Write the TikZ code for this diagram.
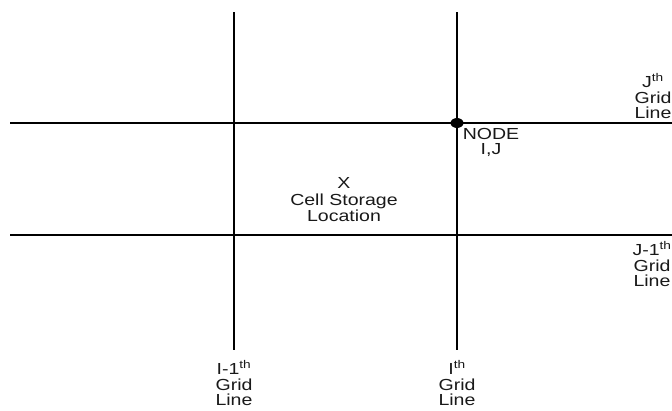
\documentclass[tikz,border=0pt]{standalone}
\usepackage{fontspec}
\setmainfont{Liberation Sans}[FakeStretch=1.22]
\usetikzlibrary{positioning}

\begin{document}
\begin{tikzpicture}[x=1pt, y=-1pt,
    gridline/.style={line width=2pt, black},
    lbl/.style={align=center, inner sep=0pt, text=black!90, font=\fontsize{16}{15.5}\selectfont}]
  \useasboundingbox (0,0) rectangle (672,410);
  % ends of the grid lines
  \coordinate (imtop) at (234,12);
  \coordinate (imbot) at (234,350);
  \coordinate (itop) at (457,12);
  \coordinate (ibot) at (457,350);
  \coordinate (jleft) at (10,123);
  \coordinate (jright) at (672,123);
  \coordinate (jmleft) at (10,235);
  \coordinate (jmright) at (672,235);
  \draw[gridline] (imtop) -- (imbot);
  \draw[gridline] (itop) -- (ibot);
  \draw[gridline] (jleft) -- (jright);
  \draw[gridline] (jmleft) -- (jmright);
  % node I,J
  \coordinate (nodeij) at (itop |- jleft);
  \fill[black] (nodeij) ellipse [x radius=6.5pt, y radius=5pt];
  \node[lbl, anchor=north] (nodelbl) at (491,128) {NODE\\I,J};
  % cell centre
  \node[lbl, anchor=base] (cellx) at (344,188) {X};
  \node[lbl, anchor=north] (celllbl) at (344,194) {Cell Storage\\Location};
  % grid line labels
  \node[lbl, anchor=north] (imlbl) at (234,360) {I-1\textsuperscript{th}\\Grid\\Line};
  \node[lbl, anchor=north] (ilbl) at (457,360) {I\textsuperscript{th}\\Grid\\Line};
  \node[lbl, anchor=south] (jlbl) at (653,119) {J\textsuperscript{th}\\Grid\\Line};
  \node[lbl, anchor=north] (jmlbl) at (652,241) {J-1\textsuperscript{th}\\Grid\\Line};
\end{tikzpicture}
\end{document}
